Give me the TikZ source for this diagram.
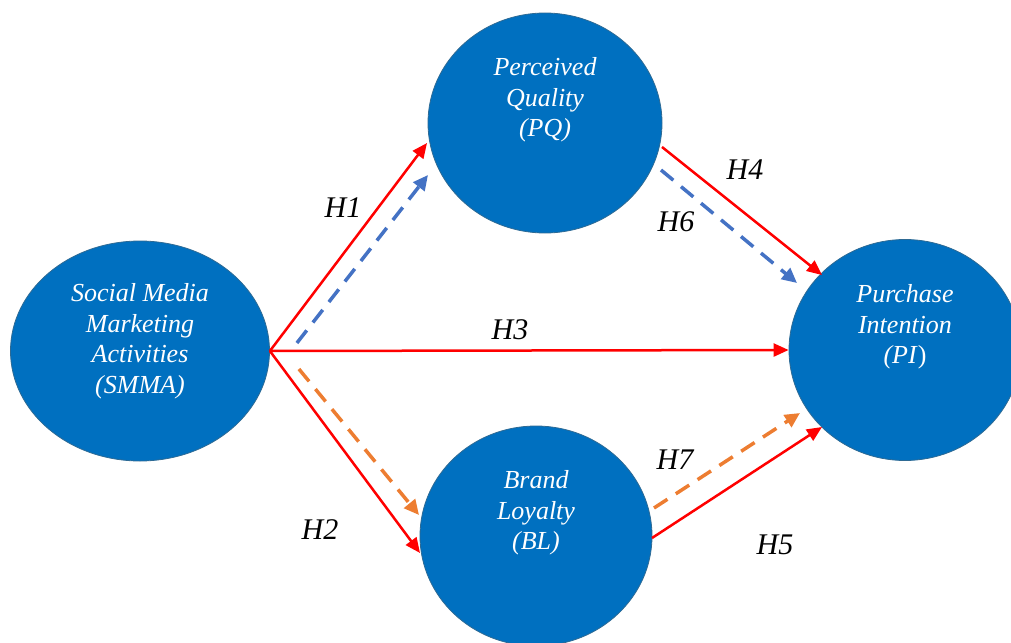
\documentclass[tikz,border=0pt]{standalone}
\usepackage{fontspec}
\setmainfont{Liberation Serif}
\usetikzlibrary{arrows.meta,shapes.geometric}
\definecolor{constructblue}{HTML}{0070C0}
\definecolor{constructedge}{HTML}{2E6A94}
\definecolor{directred}{HTML}{FF0000}
\definecolor{pqblue}{HTML}{4472C4}
\definecolor{blorange}{HTML}{ED7D31}

\begin{document}
\begin{tikzpicture}[x=1pt,y=-1pt,
  construct/.style={ellipse,draw=constructedge,line width=0.8pt,fill=constructblue,inner sep=0pt},
  cname/.style={text=white,align=center,inner sep=0pt,font=\fontsize{26}{30.5}\selectfont\itshape},
  hyp/.style={inner sep=0pt,font=\fontsize{30}{32}\selectfont\itshape},
  direct/.style={-{Triangle[length=15pt,width=13pt]},directred,line width=2.5pt},
  viapq/.style={-{Triangle[length=15pt,width=14pt]},pqblue,line width=3.5pt,dash pattern=on 16pt off 10pt},
  viabl/.style={-{Triangle[length=15pt,width=14pt]},blorange,line width=3.5pt,dash pattern=on 16pt off 10pt}]
  \useasboundingbox (0,0) rectangle (1011,642);
  % constructs
  \node[construct,minimum width=259pt,minimum height=220pt] (smma) at (140,351) {};
  \node[construct,minimum width=234pt,minimum height=220pt] (pq) at (545,123) {};
  \node[construct,minimum width=232pt,minimum height=220pt] (bl) at (536,536) {};
  \node[construct,minimum width=232pt,minimum height=221pt] (pi) at (905,350) {};
  \node[cname] (smmatext) at ([yshift=10pt]smma.center) {Social Media\\Marketing\\Activities\\(SMMA)};
  \node[cname] (pqtext) at ([yshift=23pt]pq.center) {Perceived\\Quality\\(PQ)};
  \node[cname] (bltext) at ([yshift=23pt]bl.center) {Brand\\Loyalty\\(BL)};
  \node[cname] (pitext) at ([yshift=23pt]pi.center) {Purchase\\Intention\\(PI\textup{)}};
  % direct paths
  \draw[direct] (smma.east) -- ([shift={(-118,20)}]pq.center);
  \draw[direct] (smma.east) -- ([shift={(-116,17)}]bl.center);
  \draw[direct] (smma.east) -- (pi.west);
  \draw[direct] ([shift={(117,24)}]pq.center) -- ([shift={(-83,-75)}]pi.center);
  \draw[direct] ([shift={(116,2)}]bl.center) -- ([shift={(-83,77)}]pi.center);
  % mediated paths
  \draw[viapq] ([shift={(27,-8)}]smma.east) -- ([shift={(-117,52)}]pq.center);
  \draw[viapq] ([shift={(116,47)}]pq.center) -- ([shift={(-108,-67)}]pi.center);
  \draw[viabl] ([shift={(29,18)}]smma.east) -- ([shift={(-117,-21)}]bl.center);
  \draw[viabl] ([shift={(118,-28)}]bl.center) -- ([shift={(-105,63)}]pi.center);
  % hypotheses
  \node[hyp] (h1) at (343,208) {H1};
  \node[hyp] (h2) at (320,530) {H2};
  \node[hyp] (h3) at (510,330) {H3};
  \node[hyp] (h4) at (745,170) {H4};
  \node[hyp] (h5) at (775,545) {H5};
  \node[hyp] (h6) at (676,222) {H6};
  \node[hyp] (h7) at (675,460) {H7};
\end{tikzpicture}
\end{document}
